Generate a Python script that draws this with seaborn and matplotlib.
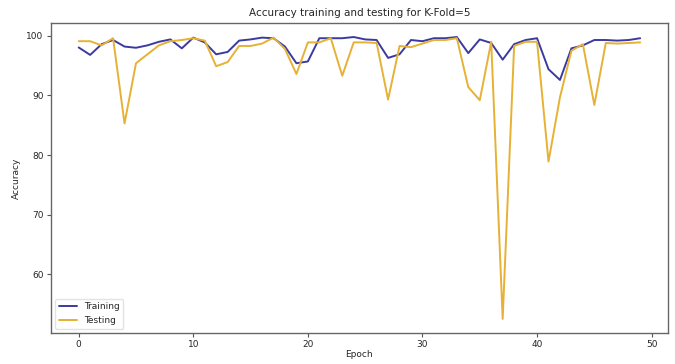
import matplotlib
matplotlib.use("Agg")
import matplotlib.pyplot as plt
import numpy as np
import pandas as pd
import seaborn as sns

# Valores (acurácia por época, K-Fold=5)
epochs = list(range(50))
training = [
    98.05, 96.8, 98.6, 99.3, 98.2, 98.0, 98.4, 99.0, 99.4, 97.9,
    99.7, 98.9, 96.9, 97.3, 99.2, 99.4, 99.7, 99.6, 98.2, 95.4,
    95.7, 99.6, 99.6, 99.6, 99.8, 99.4, 99.3, 96.3, 96.9, 99.3,
    99.1, 99.6, 99.6, 99.8, 97.1, 99.4, 98.8, 96.0, 98.6, 99.3,
    99.6, 94.4, 92.6, 97.9, 98.4, 99.3, 99.3, 99.2, 99.3, 99.6,
]
testing = [
    99.1, 99.1, 98.4, 99.6, 85.3, 95.4, 96.9, 98.4, 99.1, 99.3,
    99.6, 99.2, 94.9, 95.6, 98.3, 98.3, 98.7, 99.7, 97.8, 93.6,
    98.9, 98.9, 99.6, 93.3, 98.9, 98.9, 98.8, 89.3, 98.3, 98.1,
    98.7, 99.3, 99.3, 99.6, 91.4, 89.2, 99.0, 52.5, 98.3, 99.0,
    99.0, 78.9, 89.7, 97.5, 98.6, 88.4, 98.8, 98.7, 98.8, 98.9,
]

df = pd.DataFrame({
    "Epoch": epochs * 2,
    "Accuracy": training + testing,
    "Serie": ["Training"] * len(epochs) + ["Testing"] * len(epochs),
})

sns.set_style("white")
plt.rcParams["font.family"] = ["DejaVu Sans"]

fig, ax = plt.subplots(figsize=(6.75, 3.64), dpi=100)
sns.lineplot(
    data=df, x="Epoch", y="Accuracy", hue="Serie",
    palette={"Training": "#3b3aa0", "Testing": "#e6b134"},
    linewidth=1.4, ax=ax,
)

ax.set_title("Accuracy training and testing for K-Fold=5", fontsize=7.5, pad=5)
ax.set_xlabel("Epoch", fontsize=6.5, labelpad=1)
ax.set_ylabel("Accuracy", fontsize=6.5)
ax.set_xticks([0, 10, 20, 30, 40, 50])
ax.set_yticks([60, 70, 80, 90, 100])
ax.tick_params(axis="both", labelsize=6.5, length=3, pad=2, color="#555555", left=True, bottom=True)
for s in ax.spines.values():
    s.set_color("#666666")
    s.set_linewidth(1.0)

leg = ax.legend(loc="lower left", fontsize=6.5, frameon=True)
leg.get_frame().set_edgecolor("#dddddd")

fig.subplots_adjust(left=0.075, right=0.99, bottom=0.085, top=0.937)
fig.savefig("out.png", dpi=100)
